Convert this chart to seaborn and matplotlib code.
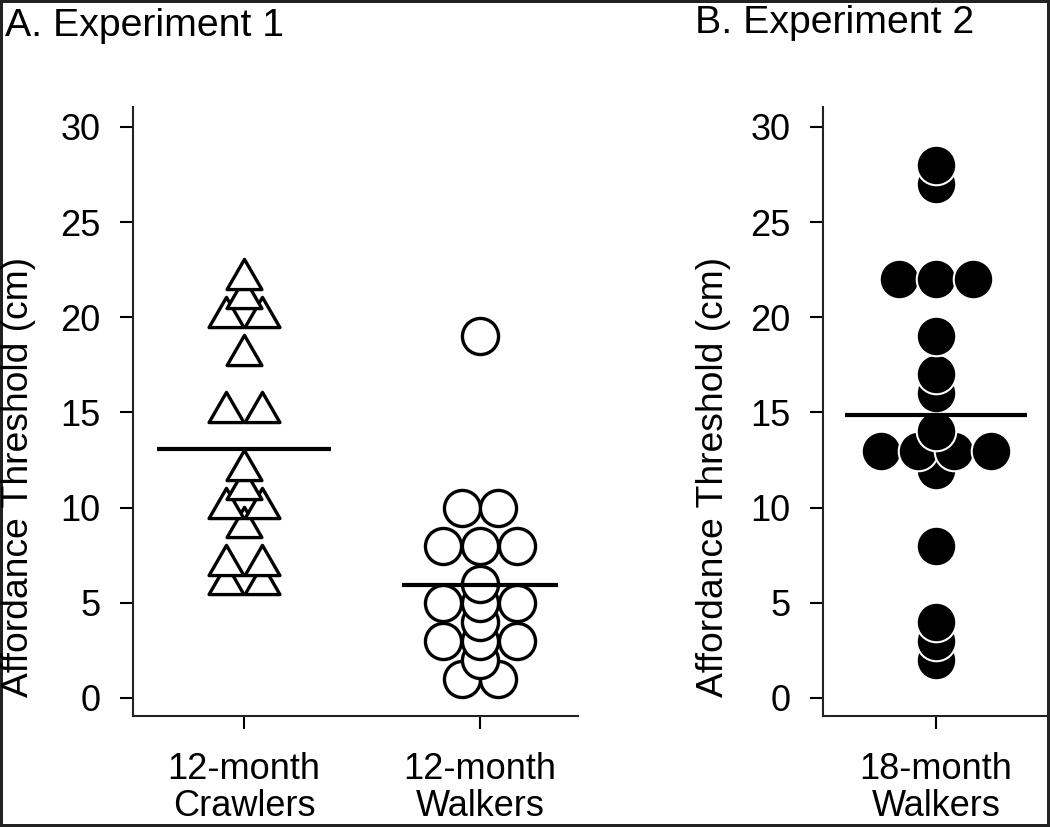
import numpy as np
import pandas as pd
import matplotlib
matplotlib.use("Agg")
import matplotlib.pyplot as plt
from matplotlib.path import Path
import seaborn as sns

# ---------------- data ----------------
crawlers_12 = [22, 21, 20, 20, 18, 15, 15, 12, 11, 10, 10, 9, 7, 7, 6, 6]
walkers_12 = [19, 10, 10, 8, 8, 8, 6, 5, 5, 5, 4, 3, 3, 3, 2, 1, 1]
walkers_18 = [28, 27, 22, 22, 22, 19, 17, 16, 14, 13, 13, 13, 13, 12, 8, 4, 3, 2]
exp1_labels = ["12-month\nCrawlers", "12-month\nWalkers"]
exp2_labels = ["18-month\nWalkers"]
y_ticks = [0, 5, 10, 15, 20, 25, 30]
y_label = "Affordance Threshold (cm)"
panel_titles = ["A. Experiment 1", "B. Experiment 2"]


def dot_offsets(values, step):
    """Wilkinson-style dot plot: equal values placed side by side, centred."""
    vals = np.asarray(values, float)
    off = np.zeros(len(vals))
    for v in np.unique(vals):
        idx = np.where(vals == v)[0]
        n = len(idx)
        off[idx] = (np.arange(n) - (n - 1) / 2) * step
    return off


def make_df(values, pos, step=0.155):
    df = pd.DataFrame({"value": values})
    df["x"] = pos + dot_offsets(values, step)
    return df.sort_values("value", kind="stable")


sns.set_theme(style="ticks")
plt.rcParams["font.family"] = ["Liberation Sans", "DejaVu Sans"]
plt.rcParams["axes.linewidth"] = 1.5
plt.rcParams["text.color"] = "black"
plt.rcParams["axes.labelcolor"] = "black"
plt.rcParams["xtick.color"] = "black"
plt.rcParams["ytick.color"] = "black"

W, H = 1050, 827
fig = plt.figure(figsize=(W / 100, H / 100), dpi=100,
                 linewidth=3, edgecolor="#222222", facecolor="white")
ax1 = fig.add_axes([133 / W, (H - 716) / H, 445 / W, 609 / H])
ax2 = fig.add_axes([823 / W, (H - 716) / H, 227 / W, 609 / H])

tri = Path(np.array([(0, 1), (-0.866, -0.5), (0.866, -0.5), (0, 1)]), closed=True)

# Experiment 1
d_craw = make_df(crawlers_12, 0)
d_walk = make_df(walkers_12, 1)
sns.scatterplot(data=d_craw, x="x", y="value", ax=ax1, marker=tri, s=841,
                color="white", edgecolor="black", linewidth=2.4, zorder=3)
sns.scatterplot(data=d_walk, x="x", y="value", ax=ax1, marker="o", s=676,
                color="white", edgecolor="black", linewidth=2.4, zorder=3)
ax1.hlines(np.mean(crawlers_12), 0 - 0.37, 0 + 0.37, color="black", lw=3, zorder=4)
ax1.hlines(np.mean(walkers_12), 1 - 0.33, 1 + 0.33, color="black", lw=3, zorder=4)

# Experiment 2
d_w18 = make_df(walkers_18, 0)
sns.scatterplot(data=d_w18, x="x", y="value", ax=ax2, marker="o", s=810,
                color="black", edgecolor="white", linewidth=1.5, zorder=3)
ax2.hlines(np.mean(walkers_18), -0.385, 0.385, color="black", lw=3, zorder=4)

for ax, labels, xlim, lab_x in [(ax1, exp1_labels, (-0.47, 1.415), -0.218),
                                 (ax2, exp2_labels, (-0.479, 0.483), -0.405)]:
    ax.set_xlim(*xlim)
    ax.set_ylim(-0.95, 31.05)
    ax.set_xticks(range(len(labels)))
    ax.set_xticklabels(labels, fontsize=26, linespacing=1.08)
    ax.set_yticks(y_ticks)
    ax.set_yticklabels([str(t) for t in y_ticks], fontsize=26)
    ax.set_xlabel("")
    ax.set_ylabel(y_label, fontsize=26.8)
    ax.yaxis.set_label_coords(lab_x, 0.392)
    ax.tick_params(axis="y", direction="out", length=9.5, width=1.5, pad=14, colors="black")
    ax.tick_params(axis="x", direction="out", length=9, width=1.5, pad=17, colors="black")
    for s in ["top", "right"]:
        ax.spines[s].set_visible(False)
    for s in ["left", "bottom"]:
        ax.spines[s].set_color("#222222")
        ax.spines[s].set_linewidth(1.5)
    ax.patch.set_visible(False)

fig.text(5 / W, 1 - 8 / H, panel_titles[0], fontsize=28.3, ha="left", va="top")
fig.text(695 / W, 1 - 5 / H, panel_titles[1], fontsize=28.3, ha="left", va="top")

fig.savefig("out.png", dpi=100)
